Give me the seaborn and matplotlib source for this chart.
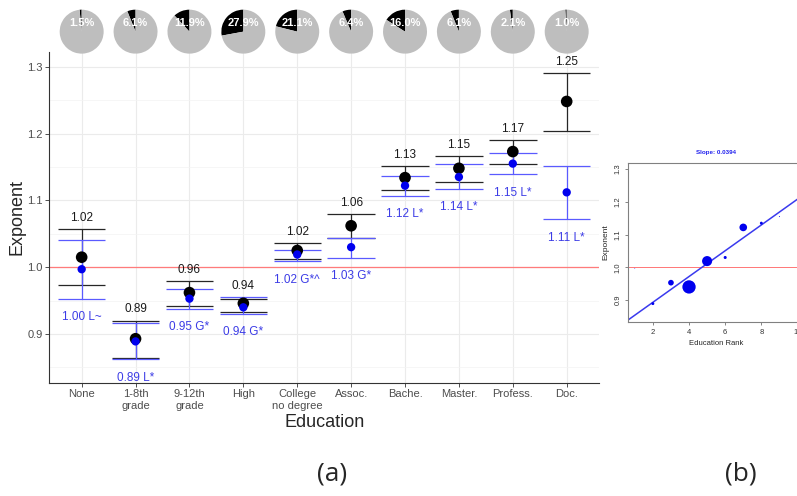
import matplotlib
matplotlib.use('Agg')
import matplotlib.pyplot as plt
import seaborn as sns
import pandas as pd
import numpy as np

# Данные
categories = ['None', '1-8th\ngrade', '9-12th\ngrade', 'High', 'College\nno degree',
              'Assoc.', 'Bache.', 'Master.', 'Profess.', 'Doc.']
share = [1.5, 6.1, 11.9, 27.9, 21.1, 6.4, 16.0, 6.1, 2.1, 1.0]

black_mean = [1.015, 0.893, 0.962, 0.946, 1.025, 1.062, 1.134, 1.148, 1.173, 1.248]
black_lo = [0.974, 0.864, 0.942, 0.933, 1.012, 1.044, 1.116, 1.127, 1.155, 1.204]
black_hi = [1.057, 0.920, 0.979, 0.952, 1.036, 1.079, 1.151, 1.166, 1.190, 1.290]

blue_mean = [0.997, 0.889, 0.953, 0.940, 1.019, 1.030, 1.122, 1.135, 1.155, 1.112]
blue_lo = [0.953, 0.862, 0.938, 0.930, 1.009, 1.014, 1.107, 1.117, 1.139, 1.072]
blue_hi = [1.040, 0.916, 0.967, 0.955, 1.026, 1.044, 1.136, 1.155, 1.171, 1.152]

black_labels = ['1.02', '0.89', '0.96', '0.94', '1.02', '1.06', '1.13', '1.15', '1.17', '1.25']
blue_labels = ['1.00 L~', '0.89 L*', '0.95 G*', '0.94 G*', '1.02 G*^', '1.03 G*',
               '1.12 L*', '1.14 L*', '1.15 L*', '1.11 L*']

rank = list(range(1, 11))

sns.set_theme(style='white')
plt.rcParams['font.family'] = ['Liberation Sans', 'DejaVu Sans']

df = pd.DataFrame({
    'pos': np.arange(len(categories)),
    'black_mean': black_mean, 'black_lo': black_lo, 'black_hi': black_hi,
    'blue_mean': blue_mean, 'blue_lo': blue_lo, 'blue_hi': blue_hi,
    'black_label': black_labels, 'blue_label': blue_labels, 'share': share,
})

fig = plt.figure(figsize=(7.97, 4.96), dpi=100)

# (a) основной график
ax = fig.add_axes([0.0619, 0.2288, 0.6897, 0.6664])

ax.axhline(1.0, color='#ff7b7b', lw=0.9, zorder=1.5)

cap = 0.44
black_c = '#262626'
blue_c = '#5a5aff'
ax.vlines(df.pos, df.black_lo, df.black_hi, color=black_c, lw=0.9, zorder=2)
ax.hlines(df.black_lo, df.pos - cap, df.pos + cap, color=black_c, lw=0.9, zorder=2)
ax.hlines(df.black_hi, df.pos - cap, df.pos + cap, color=black_c, lw=0.9, zorder=2)
ax.vlines(df.pos, df.blue_lo, df.blue_hi, color=blue_c, lw=0.9, zorder=2.1)
ax.hlines(df.blue_lo, df.pos - cap, df.pos + cap, color=blue_c, lw=0.9, zorder=2.1)
ax.hlines(df.blue_hi, df.pos - cap, df.pos + cap, color=blue_c, lw=0.9, zorder=2.1)

sns.scatterplot(data=df, x='pos', y='black_mean', color='black', s=70,
                edgecolor='none', ax=ax, zorder=3)
sns.scatterplot(data=df, x='pos', y='blue_mean', color='#0000ee', s=36,
                edgecolor='none', ax=ax, zorder=4)

for _, row in df.iterrows():
    ax.annotate(row.black_label, (row.pos, max(row.black_hi, row.blue_hi)),
                xytext=(0, 8.3), textcoords='offset points', ha='center', va='center',
                fontsize=8.5, color='#1a1a1a')
    ax.annotate(row.blue_label, (row.pos, min(row.black_lo, row.blue_lo)),
                xytext=(0, -13.3), textcoords='offset points', ha='center', va='center',
                fontsize=8.5, color='#3c3ce6')

ax.set_xlim(-0.6, 9.6)
ax.set_ylim(0.8275, 1.322)
ax.set_xticks(df.pos)
ax.set_xticklabels(categories)
ax.set_yticks([0.9, 1.0, 1.1, 1.2, 1.3])
ax.set_yticklabels(['0.9', '1.0', '1.1', '1.2', '1.3'])
ax.set_yticks([0.85, 0.95, 1.05, 1.15, 1.25], minor=True)
ax.grid(which='major', color='#ebebeb', lw=0.8)
ax.grid(which='minor', axis='y', color='#f3f3f3', lw=0.5)
ax.set_axisbelow(True)
ax.tick_params(which='major', length=3, width=0.6, color='#333333', pad=2,
               labelsize=8, labelcolor='#4d4d4d', left=True, bottom=True)
ax.tick_params(which='minor', length=0)
for s in ['top', 'right']:
    ax.spines[s].set_visible(False)
for s in ['left', 'bottom']:
    ax.spines[s].set_color('#333333')
    ax.spines[s].set_linewidth(0.8)

ax.set_xlabel('Education', fontsize=13)
ax.set_ylabel('Exponent', fontsize=13)
ax.xaxis.set_label_coords(0.5, -0.095)
ax.yaxis.set_label_coords(-0.043, 0.5)

# круговые диаграммы над категориями
for i, p in enumerate(share):
    pax = ax.inset_axes([i - 0.41, 0.995, 0.82, 0.133], transform=ax.get_xaxis_transform())
    pax.pie([p, 100 - p], colors=['black', '#bebebe'], startangle=90, counterclock=True,
            wedgeprops=dict(linewidth=0))
    pax.set_xlim(-1, 1)
    pax.set_ylim(-1, 1)
    pax.text(0, 0.38, f'{p:.1f}%', ha='center', va='center', color='white',
             fontsize=8, fontweight='bold')

# (b) наклон
bdf = pd.DataFrame({'rank': rank, 'exponent': blue_mean, 'share': share})
bx = fig.add_axes([0.7883, 0.3514, 0.2205, 0.3194])
bx.axhline(1.0, color='#ff6060', lw=0.6, zorder=1)
slope, intercept = np.polyfit(bdf['rank'], bdf['exponent'], 1, w=np.sqrt(bdf['share']))
bx.axline((0, intercept), slope=slope, color='#3a3aee', lw=1.1, zorder=2)
sns.scatterplot(data=bdf, x='rank', y='exponent', s=(0.3434 * bdf['share'].to_numpy()) ** 2,
                color='#0000ee', edgecolor='none', ax=bx, zorder=3)
bx.set_xlim(0.64, 10.36)
bx.set_ylim(0.8337, 1.318)
bx.set_xticks([2, 4, 6, 8, 10])
bx.set_yticks([0.9, 1.0, 1.1, 1.2, 1.3])
bx.set_yticklabels(['0.9', '1.0', '1.1', '1.2', '1.3'], rotation=90, va='center')
bx.tick_params(length=2.4, width=0.5, color='#555555', pad=2.5, labelsize=5.5,
               labelcolor='#333333', left=True, bottom=True)
for s in bx.spines.values():
    s.set_color('#808080')
    s.set_linewidth(0.8)
bx.set_title('Slope: 0.0394', color='#2020ee', fontsize=4.5, fontweight='bold', pad=6.5)
bx.set_xlabel('Education Rank', fontsize=5.5)
bx.set_ylabel('Exponent', fontsize=6)
bx.xaxis.set_label_coords(0.5, -0.115)
bx.yaxis.set_label_coords(-0.105, 0.5)

fig.text(332 / 797, 1 - 474 / 496, '(a)', ha='center', va='center', fontsize=19, family='Open Sans')
fig.text(741 / 797, 1 - 474 / 496, '(b)', ha='center', va='center', fontsize=19, family='Open Sans')

fig.savefig('out.png', dpi=100)
